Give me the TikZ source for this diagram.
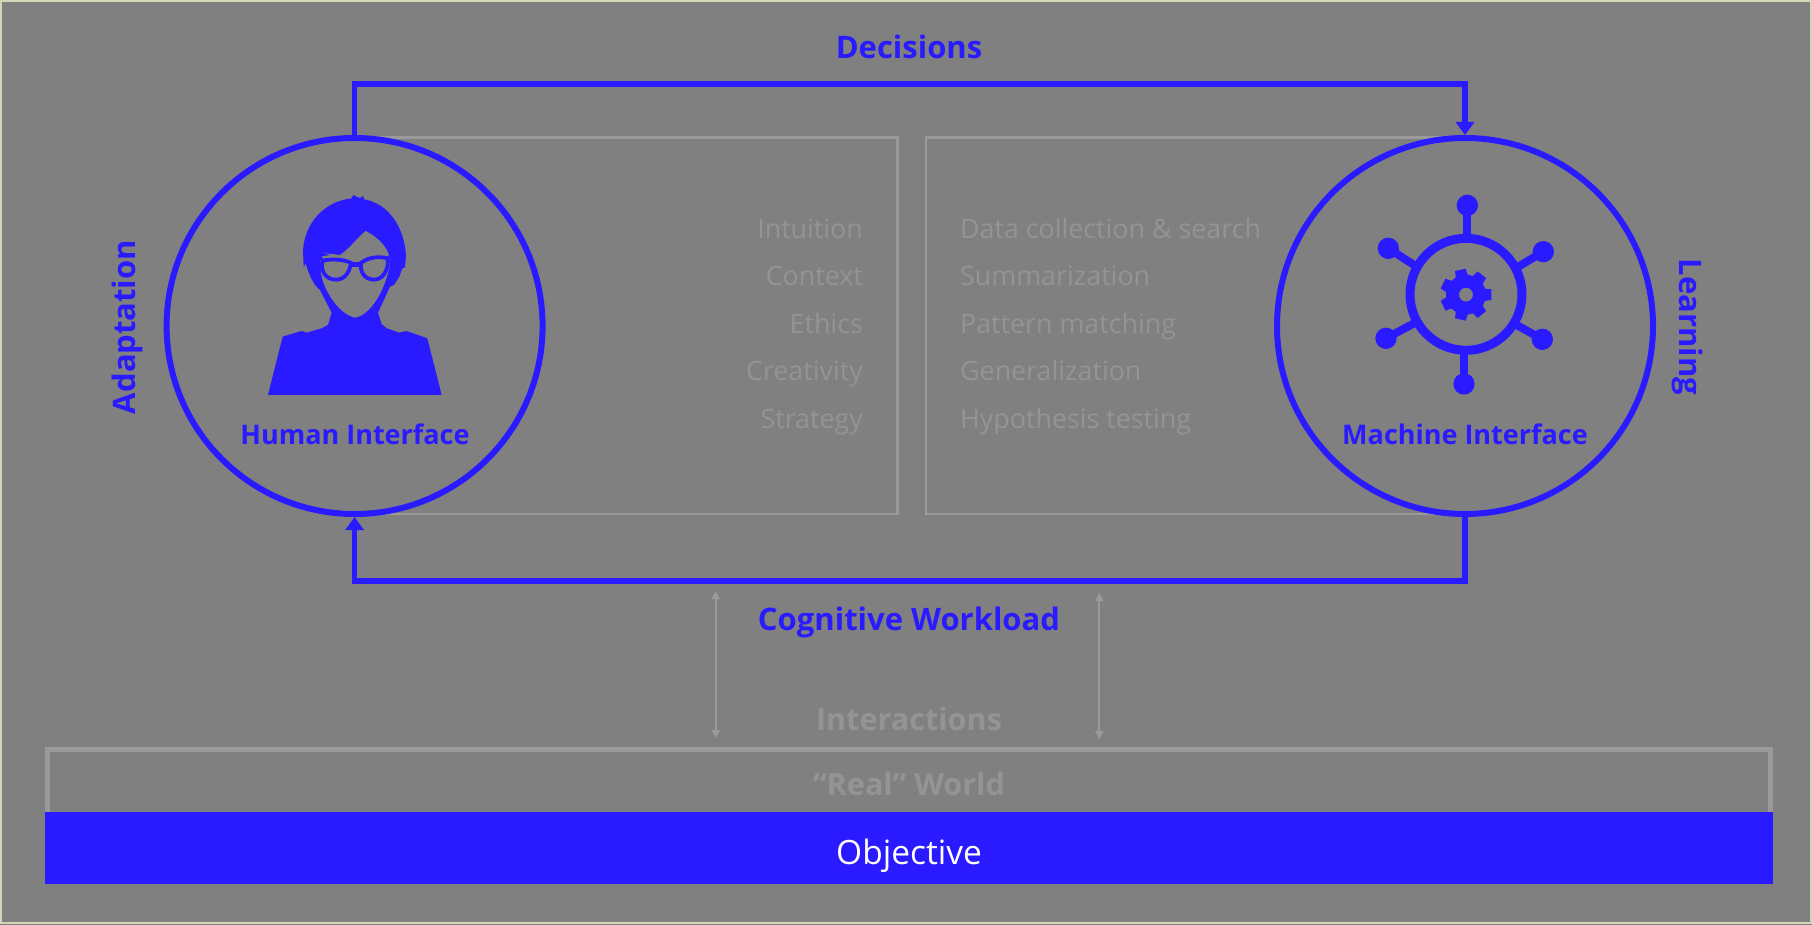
\documentclass[tikz,border=0pt]{standalone}
\usepackage{fontspec}
\setmainfont{Open Sans}
\usetikzlibrary{arrows.meta}
\definecolor{bgc}{HTML}{808080}
\definecolor{bluec}{HTML}{2A1AFF}
\definecolor{faint}{HTML}{949494}
\definecolor{edgec}{HTML}{9A9A9A}
\definecolor{rimc}{HTML}{D4D6B4}
\tikzset{
  iface/.style={circle,draw=bluec,line width=6pt,fill=bgc,minimum size=376pt,inner sep=0pt},
  panel/.style={draw=edgec,line width=2.5pt},
  flow/.style={draw=bluec,line width=5.5pt,-{Triangle[length=13pt,width=18pt]}},
  flowtext/.style={text=bluec,font=\fontsize{31}{36}\selectfont\bfseries,inner sep=0pt},
  ifacetext/.style={text=bluec,font=\fontsize{27}{32}\selectfont\bfseries,inner sep=0pt},
  itemr/.style={text=faint,font=\fontsize{26.8}{30}\selectfont,anchor=east,inner sep=0pt,text height=20pt,text depth=6pt},
  iteml/.style={text=faint,font=\fontsize{26.8}{30}\selectfont,anchor=west,inner sep=0pt,text height=20pt,text depth=6pt},
  faintb/.style={text=faint,font=\fontsize{30.6}{36}\selectfont\bfseries,inner sep=0pt},
  thin2way/.style={draw=edgec,line width=2pt,{Triangle[length=8pt,width=8pt]}-{Triangle[length=8pt,width=8pt]}},
}
\begin{document}
\begin{tikzpicture}[x=1pt,y=-1pt]
\useasboundingbox (0,0) rectangle (1812,925);
\fill[bgc] (0,0) rectangle (1812,925);
\draw[rimc,line width=1.5pt] (1,1) rectangle (1811,923);
% panels
\draw[panel] (355,137.5) rectangle (897.5,514);
\draw[panel] (926,137.5) rectangle (1465,514);
% world
\draw[line width=5pt,draw=edgec] (47.5,812) -- (47.5,749.5) -- (1770.5,749.5) -- (1770.5,812);
\node[fill=bluec,minimum width=1728pt,minimum height=72pt,inner sep=0pt,anchor=north west] (objective) at (45,812) {};
\node[text=white,font=\fontsize{33.5}{38}\selectfont,inner sep=0pt] (objtext) at (909,856) {Objective};
% circles
\node[iface] (human) at (354.6,326) {};
\node[iface] (machine) at (1465,326) {};
% flows
\coordinate (topbend) at (909,84);
\coordinate (botbend) at (909,581);
\draw[flow] (human.north) |- (topbend) -| (machine.north);
\draw[flow] (machine.south) |- (botbend) -| (human.south);
% list
\node[itemr] (l1) at (863,231.5) {Intuition};
\node[itemr] (l2) at (863,278.8) {Context};
\node[itemr] (l3) at (863,326.3) {Ethics};
\node[itemr] (l4) at (863,373.8) {Creativity};
\node[itemr] (l5) at (863,421.3) {Strategy};
\node[iteml] (r1) at (960,231.3) {Data collection \& search};
\node[iteml] (r2) at (960,278.8) {Summarization};
\node[iteml] (r3) at (960,326.3) {Pattern matching};
\node[iteml] (r4) at (960,373.8) {Generalization};
\node[iteml] (r5) at (960,421.3) {Hypothesis testing};
% labels
\node[flowtext] (decisions) at (909,47) {Decisions};
\node[flowtext] (workload) at (909,622) {Cognitive Workload};
\node[faintb] (inter) at (909,719) {Interactions};
\node[faintb] (real) at (909,784) {“Real” World};
\node[flowtext,rotate=90] (adapt) at (127,327) {Adaptation};
\node[flowtext,rotate=-90] (learn) at (1688,327) {Learning};
\node[ifacetext] (hi) at (355,434) {Human Interface};
\node[ifacetext] (mi) at (1465,434) {Machine Interface};
% double arrows
\coordinate (a1t) at (715.7,591);
\coordinate (a1b) at (715.7,738);
\coordinate (a2t) at (1099.3,593);
\coordinate (a2b) at (1099.3,739);
\draw[thin2way] (a1t) -- (a1b);
\draw[thin2way] (a2t) -- (a2b);
% person icon
\begin{scope}[shift={(240,170)},x=0.3333pt,y=-0.3333pt]
\fill[bluec] (84,675) -- (605,675) -- (562,505) -- (520,490) -- (498,483) -- (478,488) -- (440,475) -- (425,462) -- (414,428)
  -- (450,350) -- (462,345) -- (478,320) -- (487,295) -- (495,292) -- (498,255)
  .. controls (492,170) and (445,100) .. (372,88) -- (370,78) -- (358,84) -- (340,75) -- (335,85)
  .. controls (250,95) and (195,160) .. (189,240) -- (191,292) -- (197,280)
  .. controls (205,310) and (220,345) .. (240,360) -- (275,428) -- (264,465) -- (245,475) -- (200,488) -- (185,483) -- (128,500) -- cycle;
% face
\fill[bgc] (377,183) .. controls (350,205) and (330,235) .. (300,255) -- (240,248) -- (243,310)
  .. controls (248,350) and (290,430) .. (345,443)
  .. controls (395,435) and (440,350) .. (450,280)
  .. controls (452,240) and (420,205) .. (377,183) -- cycle;
% bang tip
\fill[bluec] (236,245) -- (270,255) -- (240,260) -- cycle;
% glasses
\draw[bluec,line width=3.8pt] (248,272) .. controls (240,300) and (255,330) .. (290,329) .. controls (320,328) and (332,295) .. (332,278)
  .. controls (310,268) and (275,266) .. (248,272) -- cycle;
\draw[bluec,line width=3.8pt] (364,278) .. controls (358,300) and (370,330) .. (405,329) .. controls (435,326) and (447,290) .. (443,265)
  .. controls (415,258) and (385,262) .. (364,278) -- cycle;
\draw[bluec,line width=5pt] (332,283) -- (364,283);
\draw[bluec,line width=3pt] (245,268) -- (238,255);
\draw[bluec,line width=3pt] (445,262) -- (452,258);
\end{scope}
% machine icon
\begin{scope}[shift={(1340,170)},x=0.3333pt,y=-0.3333pt]
\draw[bluec,line width=9pt] (378,373) circle (168);
\draw[bluec,line width=8pt] (382,192) -- (382,106);
\draw[bluec,line width=8pt] (222,285) -- (145,235);
\draw[bluec,line width=8pt] (535,290) -- (610,245);
\draw[bluec,line width=8pt] (530,465) -- (607,508);
\draw[bluec,line width=8pt] (222,460) -- (138,505);
\draw[bluec,line width=8pt] (372,552) -- (372,642);
\fill[bluec] (382,106) circle (32) (145,235) circle (32) (610,245) circle (32) (607,508) circle (32) (138,505) circle (32) (372,642) circle (32);
\begin{scope}[shift={(378,374)}]
\fill[bluec,even odd rule] (-17:60)
  \foreach \a in {0,1,...,6} { -- ({\a*51.43-12}:78) -- ({\a*51.43+12}:78) -- ({\a*51.43+18}:60) -- ({\a*51.43+33.4}:60)} -- cycle
  (0,0) circle (21);
\end{scope}
\end{scope}
\end{tikzpicture}
\end{document}
